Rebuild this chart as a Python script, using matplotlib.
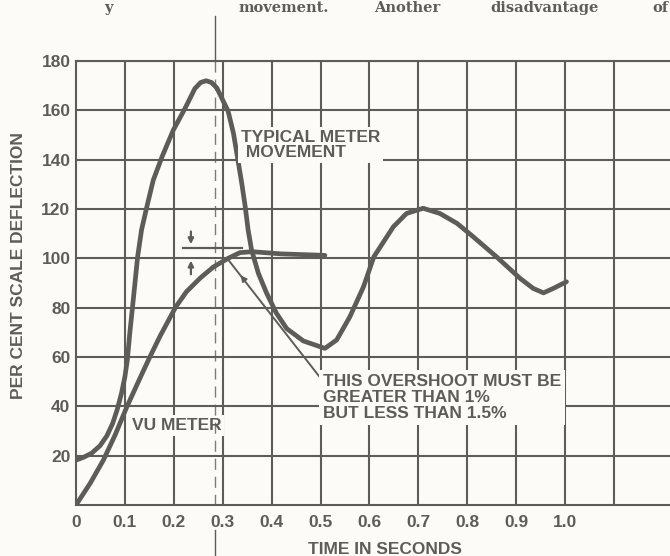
import matplotlib
matplotlib.use("Agg")
import matplotlib.pyplot as plt

# typical meter movement (fast, overshooting)
meter_t = [0.0, 0.015, 0.032, 0.049, 0.063, 0.075, 0.084, 0.093, 0.100, 0.105,
           0.110, 0.117, 0.126, 0.134, 0.145, 0.158, 0.176, 0.199, 0.223, 0.243,
           0.255, 0.266, 0.277, 0.288, 0.311, 0.322, 0.330, 0.339, 0.346, 0.352,
           0.359, 0.373, 0.390, 0.410, 0.431, 0.465, 0.509, 0.533, 0.560, 0.588,
           0.609, 0.649, 0.676, 0.710, 0.744, 0.779, 0.812, 0.860, 0.908, 0.935,
           0.956, 0.976, 1.003]
meter_v = [18.2, 19.3, 21, 24, 28, 33.1, 38.5, 45.3, 52, 58.8,
           69.7, 83, 100.6, 111.5, 121, 131.7, 141.2, 152, 160.8, 168.8,
           171.3, 172, 171.3, 169.1, 159.7, 150.7, 141.2, 130.4, 121, 111.5,
           103.4, 93.9, 85.8, 77.7, 71.5, 66.5, 63.5, 66.9, 76.3, 88.5,
           100.6, 112.8, 118.2, 120.3, 118.2, 114.2, 108.8, 100.6, 91.9, 87.8,
           86, 87.8, 90.5]

# VU meter
vu_t = [0.0, 0.029, 0.056, 0.080, 0.104, 0.131, 0.151, 0.172, 0.204, 0.226,
        0.254, 0.281, 0.311, 0.335, 0.36, 0.42, 0.509]
vu_v = [0, 8.8, 18.2, 28.4, 39.8, 51.5, 60, 68.5, 80.3, 86.5,
        92, 96.5, 100, 102.3, 102.7, 101.8, 101.2]

xticks = [0, 0.1, 0.2, 0.3, 0.4, 0.5, 0.6, 0.7, 0.8, 0.9, 1.0]
xlabels = ["0", "0.1", "0.2", "0.3", "0.4", "0.5", "0.6", "0.7", "0.8", "0.9", "1.0"]
yticks = [20, 40, 60, 80, 100, 120, 140, 160, 180]

# words of the page text just above the figure, with their left edges in px
page_words = ["y", "movement.", "Another", "disadvantage", "of"]
page_word_x = [104, 238, 374, 490, 652]

ink = "#5d5c58"
paper = "#fcfbf7"
font = "Liberation Sans"

fig = plt.figure(figsize=(6.7, 5.56), dpi=100, facecolor=paper)
ax = fig.add_axes([76/670, 51/556, 1 - 76/670, 444/556])
ax.set_facecolor(paper)

ax.set_xlim(0, 1.2147)
ax.set_ylim(0, 180)

# grid every 0.1 s and every 20 %
for gx in [0.1, 0.2, 0.3, 0.4, 0.5, 0.6, 0.7, 0.8, 0.9, 1.0, 1.1]:
    ax.axvline(gx, color=ink, lw=1.5, zorder=1)
for gy in yticks:
    ax.axhline(gy, color=ink, lw=1.5, zorder=1)

ax.spines["right"].set_visible(False)
for side in ["left", "bottom", "top"]:
    ax.spines[side].set_color(ink)
    ax.spines[side].set_linewidth(1.5)

ax.plot(meter_t, meter_v, color=ink, lw=3.4, solid_capstyle="round",
        solid_joinstyle="round", zorder=4)
ax.plot(vu_t, vu_v, color=ink, lw=3.4, solid_capstyle="round",
        solid_joinstyle="round", zorder=4)

# overshoot marker
ax.plot([0.219, 0.339], [104.2, 104.2], color=ink, lw=1.6, zorder=3)
ax.annotate("", xy=(0.235, 104.6), xytext=(0.235, 112),
            arrowprops=dict(arrowstyle="-|>", color=ink, lw=1.6, mutation_scale=8), zorder=3)
ax.annotate("", xy=(0.235, 100.2), xytext=(0.235, 92.4),
            arrowprops=dict(arrowstyle="-|>", color=ink, lw=1.6, mutation_scale=8), zorder=3)

# pointer to the overshoot note
ax.plot([0.311, 0.503], [99.5, 50.7], color=ink, lw=1.4, zorder=3)
ax.annotate("", xy=(0.333, 94.0), xytext=(0.345, 91.0),
            arrowprops=dict(arrowstyle="-|>", color=ink, lw=1.2, mutation_scale=9), zorder=3)

# labels with paper-coloured boxes that hide the grid
box = dict(facecolor=paper, edgecolor="none", pad=2)
ax.text(0.337, 146, "TYPICAL METER\n MOVEMENT", color=ink, fontsize=12.5,
        fontweight="bold", family=font, va="center", ha="left",
        linespacing=1.05, bbox=box, zorder=5)
ax.text(0.114, 32.3, "VU METER", color=ink, fontsize=12.5, fontweight="bold",
        family=font, va="center", ha="left", bbox=box, zorder=5)
ax.text(0.505, 43.6, "THIS OVERSHOOT MUST BE\nGREATER THAN 1%\nBUT LESS THAN 1.5%",
        color=ink, fontsize=12.5, fontweight="bold", family=font, va="center",
        ha="left", linespacing=1.1,
        bbox=dict(facecolor=paper, edgecolor="none", pad=3), zorder=5)

ax.set_xticks(xticks)
ax.set_xticklabels(xlabels)
ax.set_yticks(yticks)
ax.tick_params(length=0, colors=ink, labelsize=12.5)
ax.tick_params(axis="x", pad=7)
ax.tick_params(axis="y", pad=4)
for lab in ax.get_xticklabels() + ax.get_yticklabels():
    lab.set_fontweight("bold")
    lab.set_family(font)

fig.text(18.5/670, 1 - 266/556, "PER CENT SCALE DEFLECTION", rotation=90,
         color=ink, fontsize=12.5, fontweight="bold", family=font,
         ha="center", va="center")
fig.text(385/670, 1 - 550/556, "TIME IN SECONDS", color=ink, fontsize=12.5,
         fontweight="bold", family=font, ha="center", va="center")

# fold line of the scanned page
fig.add_artist(plt.Line2D([215/670, 215/670], [1 - 16/556, 1 - 61/556],
                          color=ink, lw=1.0, transform=fig.transFigure))
fig.add_artist(plt.Line2D([215/670, 215/670], [1 - 61/556, 51/556],
                          color=ink, lw=1.0, ls=(0, (8, 5)), alpha=0.8,
                          transform=fig.transFigure, zorder=2))
fig.add_artist(plt.Line2D([215/670, 215/670], [1 - 530/556, 0],
                          color=ink, lw=1.0, transform=fig.transFigure))

# body text of the page above the figure (kept fully inside the image)
for word, wx in zip(page_words, page_word_x):
    fig.text(wx/670, 1 - 12/556, word, color=ink, fontsize=10.5,
             fontweight="bold", family="DejaVu Serif", ha="left", va="baseline")

fig.savefig("out.png", dpi=100, facecolor=paper)
